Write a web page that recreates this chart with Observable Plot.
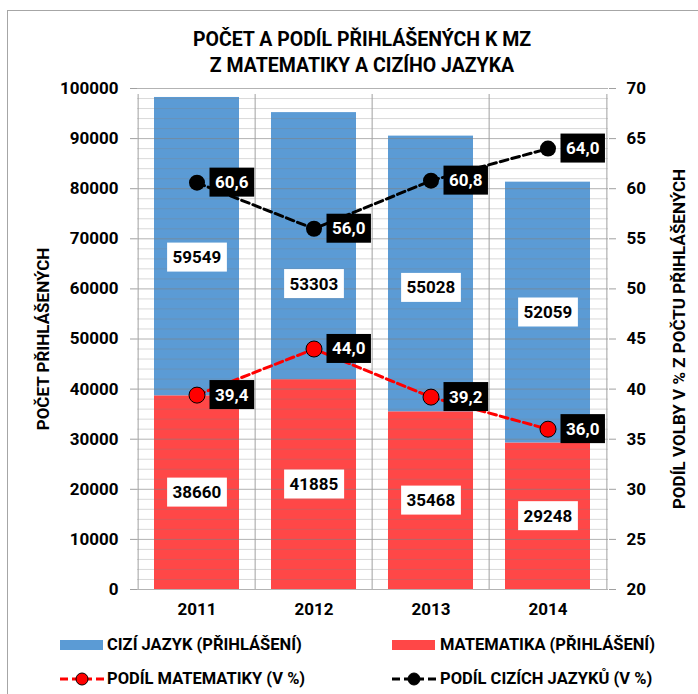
<!DOCTYPE html>
<html>
<head>
<meta charset="utf-8">
<script src="https://cdn.jsdelivr.net/npm/d3@7"></script>
<script src="https://cdn.jsdelivr.net/npm/@observablehq/plot@0.6"></script>
<style>
  body { margin:0; width:698px; height:694px; position:relative; overflow:hidden; background:#fff;
         font-family: Roboto, "Open Sans", sans-serif; font-weight:700; color:#000; }
  #frame { position:absolute; left:7px; top:10px; width:900px; height:900px;
           border-left:1px solid #a6a6a6; border-top:1px solid #a6a6a6; }
  #title { position:absolute; left:0; width:724px; top:27px; text-align:center;
           font-size:19.5px; line-height:26px; }
  #chart { position:absolute; left:0; top:80px; }
  .lt { position:absolute; font-size:16.5px; line-height:20px; white-space:nowrap; }
  .sw { position:absolute; }
</style>
</head>
<body>
<div id="frame"></div>
<div id="title">POČET A PODÍL PŘIHLÁŠENÝCH K MZ<br>Z MATEMATIKY A CIZÍHO JAZYKA</div>
<div id="chart"></div>
<div id="legend"></div>
<script>
// ---- data ----
const years = ["2011", "2012", "2013", "2014"];
const matematika = [38660, 41885, 35468, 29248];
const ciziJazyk = [59549, 53303, 55028, 52059];
const podilMatematiky = [39.4, 44.0, 39.2, 36.0];
const podilCizichJazyku = [60.6, 56.0, 60.8, 64.0];
const leftTicks = [0, 10000, 20000, 30000, 40000, 50000, 60000, 70000, 80000, 90000, 100000];
const rightTicks = [20, 25, 30, 35, 40, 45, 50, 55, 60, 65, 70];
const leftLabel = "POČET PŘIHLÁŠENÝCH";
const rightLabel = "PODÍL VOLBY V % Z POČTU PŘIHLÁŠENÝCH";
const legendLabels = ["CIZÍ JAZYK (PŘIHLÁŠENÍ)", "MATEMATIKA (PŘIHLÁŠENÍ)", "PODÍL MATEMATIKY (V %)", "PODÍL CIZÍCH JAZYKŮ (V %)"];

// ---- layout / style ----
const W = 698, H = 545, mT = 8, mB = 36, mL = 137, mR = 90;
const blue = "#5b9bd5", red = "#ff4747";
const barLabelInk = "#010101", pctLabelInk = "#ffffff";
const yMax = 100000, pMin = 20, pMax = 70;
const toCount = p => (p - pMin) / (pMax - pMin) * yMax;
const fromCount = c => pMin + c / yMax * (pMax - pMin);
const step = (W - mL - mR) / years.length;
const pxPerUnit = (H - mT - mB) / yMax;
const blueNudgePx = [11, 38, 14, 0];

const rows = years.map((year, i) => ({
  year, mat: matematika[i], cj: ciziJazyk[i], total: matematika[i] + ciziJazyk[i],
  pm: podilMatematiky[i], pc: podilCizichJazyku[i]
}));
const minor = d3.range(0, yMax + 1, 2000).filter(v => v % 10000 !== 0);
const fmt = v => v.toFixed(1).replace(".", ",");

const chart = Plot.plot({
  width: W, height: H, marginTop: mT, marginBottom: mB, marginLeft: mL, marginRight: mR,
  style: { fontFamily: "Roboto, 'Open Sans', sans-serif", fontWeight: 700, fontSize: "17px", color: "black", overflow: "visible", background: "transparent" },
  x: { domain: years, paddingInner: 0.27, paddingOuter: 0.135, axis: null },
  y: { domain: [0, yMax], axis: null },
  marks: [
    Plot.barY(rows, { x: "year", y1: 0, y2: "mat", fill: red }),
    Plot.barY(rows, { x: "year", y1: "mat", y2: "total", fill: blue }),
    Plot.ruleY(minor, { stroke: "#808080", strokeOpacity: 0.3 }),
    Plot.ruleY(leftTicks, { stroke: "#808080", strokeOpacity: 0.6 }),
    Plot.ruleX(years, { x: d => d, dx: -step / 2, y1: 0, y2: yMax, insetBottom: -6, stroke: "#a0a0a0" }),
    Plot.ruleX([years[years.length - 1]], { x: d => d, dx: step / 2, y1: 0, y2: yMax, insetBottom: -6, stroke: "#a0a0a0" }),
    Plot.axisY(leftTicks, { anchor: "left", tickSize: 7, tickPadding: 12, stroke: "#a0a0a0", fill: "black", tickFormat: d => String(d), label: null }),
    Plot.axisY(rightTicks.map(toCount), { anchor: "right", tickSize: 7, tickPadding: 11, stroke: "#a0a0a0", fill: "black", tickFormat: d => String(Math.round(fromCount(d))), label: null }),
    Plot.axisX({ tickSize: 0, tickPadding: 13, label: null, fill: "black" }),
    Plot.text([leftLabel], { frameAnchor: "left", textAnchor: "middle", dx: -94, rotate: -90, text: d => d }),
    Plot.text([rightLabel], { frameAnchor: "right", textAnchor: "middle", dx: 71, rotate: -90, text: d => d }),
    Plot.text(rows, { x: "year", y: d => d.mat / 2, text: d => String(d.mat), fill: barLabelInk }),
    Plot.text(rows, { x: "year", y: (d, i) => d.mat + d.cj / 2 - blueNudgePx[i] / pxPerUnit, text: d => String(d.cj), fill: barLabelInk }),
    Plot.line(rows, { x: "year", y: d => toCount(d.pm), stroke: "#ff0000", strokeWidth: 3, strokeDasharray: "8,4" }),
    Plot.line(rows, { x: "year", y: d => toCount(d.pc), stroke: "black", strokeWidth: 3, strokeDasharray: "8,4" }),
    Plot.dot(rows, { x: "year", y: d => toCount(d.pm), r: 8, fill: "#ff0000", stroke: "black", strokeWidth: 1 }),
    Plot.dot(rows, { x: "year", y: d => toCount(d.pc), r: 8, fill: "black" }),
    Plot.text(rows, { x: "year", y: d => toCount(d.pm), text: d => fmt(d.pm), textAnchor: "start", dx: 18, fill: pctLabelInk }),
    Plot.text(rows, { x: "year", y: d => toCount(d.pc), text: d => fmt(d.pc), textAnchor: "start", dx: 18, fill: pctLabelInk })
  ]
});
document.getElementById("chart").append(chart);

// label boxes behind texts
function boxes(ink, fill) {
  const want = d3.color(ink).toString();
  chart.querySelectorAll("g").forEach(g => {
    const f = g.getAttribute("fill");
    if (!f || d3.color(f) == null || d3.color(f).toString() !== want) return;
    g.querySelectorAll("text").forEach(t => {
      const b = t.getBBox();
      const r = document.createElementNS("http://www.w3.org/2000/svg", "rect");
      const px = 5.5, py = 4.5;
      r.setAttribute("x", b.x - px); r.setAttribute("y", b.y - py);
      r.setAttribute("width", b.width + 2 * px); r.setAttribute("height", b.height + 2 * py);
      r.setAttribute("fill", fill);
      const tr = t.getAttribute("transform"); if (tr) r.setAttribute("transform", tr);
      t.parentNode.insertBefore(r, t);
    });
  });
}
boxes(barLabelInk, "white");
boxes(pctLabelInk, "black");

// legend
const leg = document.getElementById("legend");
function addText(txt, left, cy) {
  const d = document.createElement("div"); d.className = "lt";
  d.style.left = left + "px"; d.style.top = (cy - 10) + "px"; d.textContent = txt; leg.append(d);
}
function addSwatch(color, left, cy) {
  const d = document.createElement("div"); d.className = "sw";
  Object.assign(d.style, { left: left + "px", top: (cy - 5) + "px", width: "43px", height: "10px", background: color });
  leg.append(d);
}
function addLineSwatch(color, left, cy, dotStroke) {
  const s = d3.create("svg").attr("width", 44).attr("height", 16)
    .style("position", "absolute").style("left", left + "px").style("top", (cy - 8) + "px");
  s.append("line").attr("x1", 0).attr("x2", 44).attr("y1", 8).attr("y2", 8)
    .attr("stroke", color).attr("stroke-width", 3).attr("stroke-dasharray", "8,4");
  s.append("circle").attr("cx", 22).attr("cy", 8).attr("r", 6).attr("fill", color).attr("stroke", dotStroke);
  leg.append(s.node());
}
addSwatch(blue, 60, 645); addText(legendLabels[0], 107, 645);
addSwatch(red, 392, 645); addText(legendLabels[1], 440, 645);
addLineSwatch("#ff0000", 60, 679, "black"); addText(legendLabels[2], 107, 679);
addLineSwatch("black", 392, 679, "black"); addText(legendLabels[3], 440, 679);
</script>
</body>
</html>
